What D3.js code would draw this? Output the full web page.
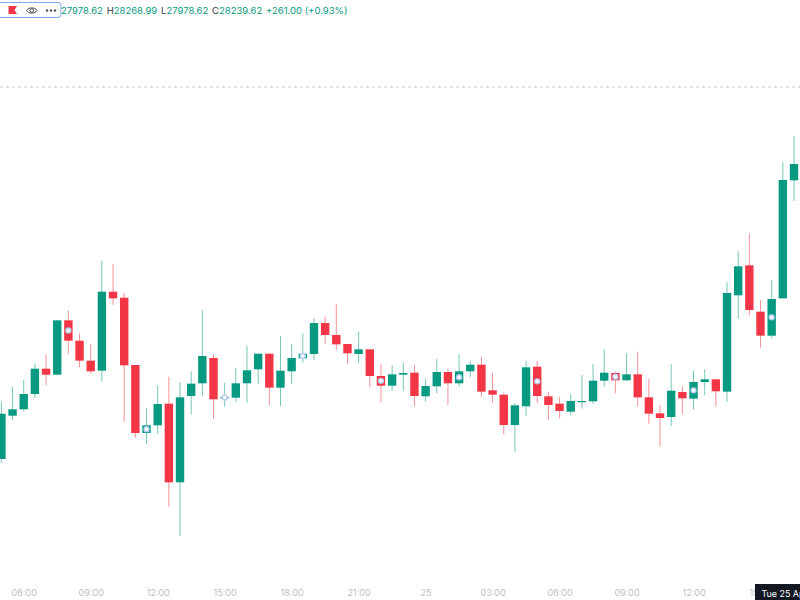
<!DOCTYPE html>
<html><head><meta charset="utf-8">
<script src="https://cdn.jsdelivr.net/npm/d3@7"></script>
<style>html,body{margin:0;padding:0;background:#fff;overflow:hidden}svg{display:block}text{font-family:Inter,Roboto,sans-serif}</style>
</head><body><svg id="c" width="800" height="600"></svg>
<script>
const startTime = "2023-04-24T05:00:00";
const stepMinutes = 30;
const opens = [27630.2,27725.5,27739.5,27773.2,27828.9,27815.7,27935.3,27890.5,27846.5,27824.5,27998.3,27985.1,27837,27687.4,27704.3,27751.9,27578.9,27768.8,27796.7,27852.4,27764.4,27765.1,27796.7,27827.5,27861.9,27787.1,27823.1,27851.7,27861.2,27929.4,27903,27883.2,27861.2,27871.5,27812.8,27791.5,27815.7,27820.1,27768.1,27790.1,27821.6,27796.7,27823.1,27837.7,27781.3,27771.7,27705,27746.1,27833.3,27768.1,27751.9,27734.3,27756.3,27757.1,27802.5,27819.4,27803.3,27816.5,27765.9,27730.7,27722.6,27777.6,27762.9,27799.6,27805.5,27778.3,27990.3,28056.3,27954.3,27901.5,27983.7,28243.3];
const highs = [27756.3,27788.6,27804,27840.7,27860.5,27935.3,27956.5,27906.7,27883.2,28066.5,28059.2,27996.1,27837,27741.7,27791.5,27811.3,27798.9,27823.1,27957.3,27859.7,27798.1,27830.4,27879.5,27861.9,27861.9,27900.8,27883.2,27906.7,27939.7,27943.3,27970.5,27883.2,27911.1,27871.5,27839.2,27836.3,27842.1,27836.3,27807.7,27850.2,27828.9,27861.2,27845.1,27855.3,27820.1,27776.1,27752.7,27846.5,27846.5,27778.3,27765.9,27773.2,27815,27839.2,27871.5,27822.3,27862.7,27866.3,27806.2,27748.3,27839.2,27789.3,27824.5,27827.5,27806.9,28019.6,28087.1,28126.7,27980,28024,28283.6,28340.8];
const lows = [27622.1,27716,27735.1,27763.7,27792.3,27814.3,27861.2,27831.9,27817.9,27800.3,27969,27712.3,27677.9,27663.2,27685.2,27525.3,27460.8,27727.7,27768.8,27718.9,27745.3,27755.6,27754.1,27795.9,27749,27746.8,27795.2,27842.1,27848,27883.2,27870,27839.2,27842.1,27787.9,27754.1,27779.8,27780.5,27746.8,27756.3,27774.7,27749,27789.3,27809.9,27767.3,27754.1,27685.2,27645.6,27724.8,27754.1,27716,27719.7,27727,27740.9,27751.2,27789.3,27774.7,27802.5,27745.3,27707.2,27657.3,27702.8,27728.5,27739.5,27770.3,27745.3,27755.6,27938.9,27947,27875.1,27895.7,27983.7,28197.8];
const closes = [27729.9,27739.5,27773.2,27828.9,27815.7,27935.3,27890.5,27846.5,27823.1,27998.3,27983.7,27836.3,27687.4,27704.3,27751.2,27578.9,27765.9,27795.9,27856.8,27761.5,27766.6,27796.7,27825.3,27861.9,27787.1,27824.5,27852.4,27861.9,27929.4,27903,27882.5,27862.7,27871.5,27812.8,27791.5,27816.5,27819.4,27768.8,27790.8,27821.6,27796.7,27823.1,27837.7,27778.3,27771.7,27705,27748.3,27831.9,27768.8,27749,27735.8,27757.8,27757.8,27802.5,27820.1,27803.3,27816.5,27765.9,27729.9,27720.4,27780.5,27763.7,27799.6,27805.5,27779.1,27995.4,28054.1,27958,27901.5,27982.2,28244,28279.2];
const markerIndex = [6,13,20,27,34,41,48,55,62,69];
const refPrice = 28448.6;
const tickTimes = ["2023-04-24T06:00:00","2023-04-24T09:00:00","2023-04-24T12:00:00","2023-04-24T15:00:00","2023-04-24T18:00:00","2023-04-24T21:00:00","2023-04-25T00:00:00","2023-04-25T03:00:00","2023-04-25T06:00:00","2023-04-25T09:00:00","2023-04-25T12:00:00","2023-04-25T15:00:00"];
const tickLabels = ["06:00","09:00","12:00","15:00","18:00","21:00","25","03:00","06:00","09:00","12:00","15:00"];
const legendParts = [["",  "27978.62"],["H","28268.99"],["L","27978.62"],["C","28239.62"]];
const legendChange = "+261.00 (+0.93%)";
const cursorLabel = "Tue 25 Apr";

const GREEN="#089981", RED="#F23645";
const t0 = new Date(startTime);
const timeAt = i => new Date(t0.getTime()+i*stepMinutes*60000);
const x = d3.scaleTime().domain([timeAt(0),timeAt(71)]).range([1.4,794]);
const y = d3.scaleLinear().domain([27320,28640]).range([600,0]);
const candles = opens.map((o,i)=>({i,t:timeAt(i),o,h:highs[i],l:lows[i],c:closes[i]}));
const svg = d3.select("#c");
const col = d=>d.c>=d.o?GREEN:RED;
const bw = 8.4;

svg.append("line").attr("x1",0).attr("x2",800).attr("y1",y(refPrice)).attr("y2",y(refPrice))
  .attr("stroke","#c4c7cf").attr("stroke-width",1).attr("stroke-dasharray","3 3");

const g = svg.append("g");
g.selectAll(".wick").data(candles).join("line").attr("class","wick")
  .attr("x1",d=>x(d.t)).attr("x2",d=>x(d.t)).attr("y1",d=>y(d.h)).attr("y2",d=>y(d.l))
  .attr("stroke",col).attr("stroke-width",1).attr("stroke-opacity",0.55);
g.selectAll(".body").data(candles).join("rect").attr("class","body")
  .attr("x",d=>x(d.t)-bw/2).attr("width",bw)
  .attr("y",d=>y(Math.max(d.o,d.c)))
  .attr("height",d=>Math.max(1.2,Math.abs(y(d.o)-y(d.c))))
  .attr("fill",col);

g.selectAll(".mark").data(markerIndex.map(i=>candles[i])).join("circle").attr("class","mark")
  .attr("cx",d=>x(d.t)).attr("cy",d=>y((d.o+d.c)/2)).attr("r",2.5)
  .attr("fill","#fff").attr("stroke","#b4cbf2").attr("stroke-width",1.4);

const axis = d3.axisBottom(x).tickValues(tickTimes.map(s=>new Date(s)))
  .tickFormat((d,i)=>tickLabels[i]).tickSize(0).tickPadding(0);
const ax = svg.append("g").attr("transform","translate(0,589.5)").call(axis);
ax.select(".domain").remove();
ax.selectAll("text").attr("fill","#bcbfc7").attr("font-size",9).attr("font-family","Inter,Roboto,sans-serif").attr("dy","0.71em");

svg.append("rect").attr("x",755).attr("y",584).attr("width",45).attr("height",16).attr("fill","#131722");
svg.append("text").attr("x",761.5).attr("y",596.5).attr("fill","#fff").attr("font-size",8.9).text(cursorLabel);

// legend
svg.append("rect").attr("x",-6).attr("y",2.5).attr("width",67).attr("height",15).attr("rx",3)
  .attr("fill","#fff").attr("stroke","#7ea6ec").attr("stroke-width",1);
svg.append("path").attr("d","M8.5 6H17L14.5 10L17 14H8.5Z").attr("fill","#F23645");
svg.append("path").attr("d","M26.5 10.5C28.5 7 35 7 37 10.5C35 14 28.5 14 26.5 10.5Z").attr("fill","none").attr("stroke","#444a55").attr("stroke-width",1);
svg.append("circle").attr("cx",31.8).attr("cy",10.5).attr("r",1.8).attr("fill","none").attr("stroke","#444a55").attr("stroke-width",1);
svg.selectAll(".dot").data([47,51,55]).join("circle").attr("class","dot").attr("cx",d=>d).attr("cy",10.5).attr("r",1.2).attr("fill","#50535e");

const lt = svg.append("text").attr("x",61).attr("y",14).attr("font-size",9.5).attr("xml:space","preserve");
legendParts.forEach(([k,v],i)=>{
  if(k) lt.append("tspan").attr("fill","#363a45").attr("dx",i?3.8:0).text(k);
  lt.append("tspan").attr("fill",GREEN).text(v);
});
lt.append("tspan").attr("fill",GREEN).attr("dx",3.8).text(legendChange);
</script></body></html>
